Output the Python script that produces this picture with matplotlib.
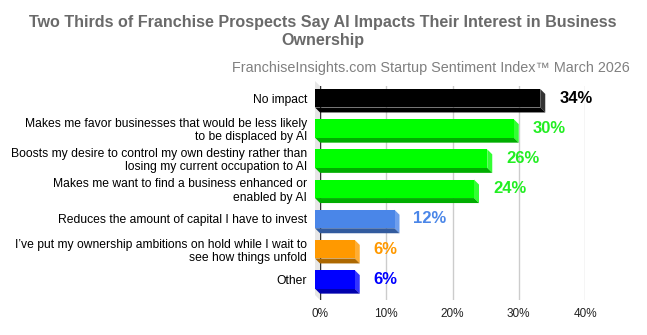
import matplotlib
matplotlib.use('Agg')
import matplotlib.pyplot as plt
import numpy as np
from matplotlib.patches import Polygon
from matplotlib.colors import to_rgb

plt.rcParams['font.family'] = ['Liberation Sans', 'DejaVu Sans']

# survey answers, top to bottom
categories = [
    'No impact',
    'Makes me favor businesses that would be less likely\nto be displaced by AI',
    'Boosts my desire to control my own destiny rather than\nlosing my current occupation to AI',
    'Makes me want to find a business enhanced or\nenabled by AI',
    'Reduces the amount of capital I have to invest',
    'I\u2019ve put my ownership ambitions on hold while I wait to\nsee how things unfold',
    'Other',
]
values = [34, 30, 26, 24, 12, 6, 6]
bar_colors = ['#000000', '#00ff00', '#00ff00', '#00ff00', '#4a86e8', '#ff9900', '#0000ff']
label_colors = ['#000000', '#22ee22', '#22ee22', '#22ee22', '#4a86e8', '#ff9900', '#0000ff']
xticks = [0, 10, 20, 30, 40]

W, H = 647, 335
fig = plt.figure(figsize=(W / 100, H / 100), dpi=100)
# plot area in pixels: x 320..585, y 86..300
ax = fig.add_axes([320 / W, (H - 300) / H, 265 / W, 214 / H])
ax.set_xlim(0, 40)
ax.set_ylim(6.517, -0.57)

px_x = 265 / 40.0      # pixels per percent
px_y = 30.2            # pixels per row
dx = -5 / px_x         # 3d offset of the front face
dy = -5 / px_y
h = 18.5 / px_y

rows = np.arange(len(values))

# left wall
top, bot = -0.57, 6.517
ax.add_patch(Polygon([(dx, top + dy), (0, top), (0, bot), (dx, bot + dy)],
                     closed=True, fc='#e6e6e6', ec='none', clip_on=False, zorder=1))

ax.grid(axis='x', color='#cccccc', lw=1, zorder=0)
ax.axvline(0, color='#333333', lw=1, zorder=2)

def shade(c, f):
    r = np.array(to_rgb(c))
    return tuple(np.clip(r * f, 0, 1))

def lighten(c, f):
    r = np.array(to_rgb(c))
    return tuple(r + (1 - r) * f)

for i, (v, c) in enumerate(zip(values, bar_colors)):
    y0 = i - h / 2
    y1 = i + h / 2
    side_c = '#333333' if c == '#000000' else lighten(c, 0.2)
    bottom_c = '#000000' if c == '#000000' else shade(c, 0.68)
    # right side
    ax.add_patch(Polygon([(v + dx, y0 + dy), (v, y0), (v, y1), (v + dx, y1 + dy)],
                         closed=True, fc=side_c, ec='none', clip_on=False, zorder=3))
    # bottom
    ax.add_patch(Polygon([(dx, y1 + dy), (v + dx, y1 + dy), (v, y1), (0, y1)],
                         closed=True, fc=bottom_c, ec='none', clip_on=False, zorder=3))

# front faces
ax.barh(rows + dy, values, left=dx, height=h, color=bar_colors, zorder=4, clip_on=False)

for i, v in enumerate(values):
    ax.text(v + 14 / px_x, i + dy, f'{v}%', color=label_colors[i], fontsize=12,
            fontweight='bold', va='center', ha='left')

ax.set_yticks(rows + dy)
ax.set_yticklabels(categories, fontsize=8.75, linespacing=1.15, color='#000000')
ax.set_xticks(xticks)
ax.set_xticklabels([f'{t}%' for t in xticks], fontsize=8.5, color='#222222')
ax.tick_params(axis='y', length=0, pad=9.4)
ax.tick_params(axis='x', length=0, pad=5.5)
for s in ax.spines.values():
    s.set_visible(False)

fig.text(323 / W, 1 - 31 / H,
         'Two Thirds of Franchise Prospects Say AI Impacts Their Interest in Business\nOwnership',
         ha='center', va='center', fontsize=11.6, fontweight='bold', color='#6a6a6a',
         linespacing=1.25)
fig.text(630 / W, 1 - 68 / H,
         'FranchiseInsights.com Startup Sentiment Index\u2122 March 2026',
         ha='right', va='center', fontsize=10.4, color='#808080')

fig.savefig('out.png', dpi=100)
